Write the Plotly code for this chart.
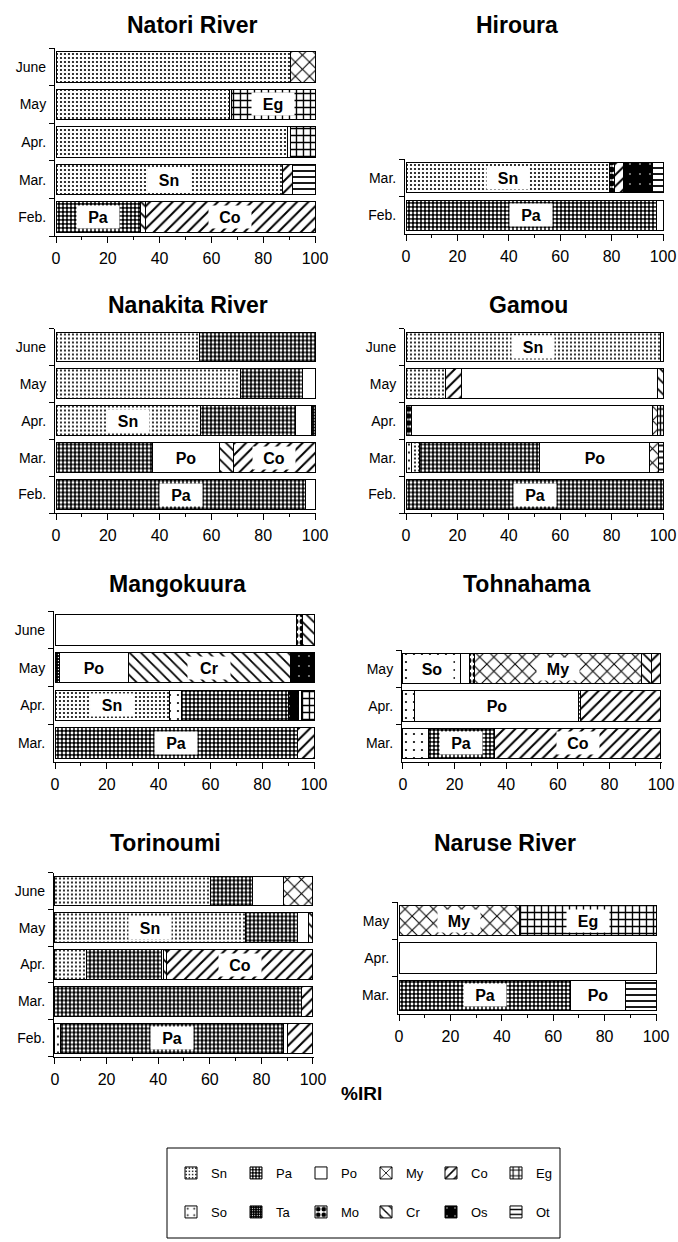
import plotly.graph_objects as go

W, H = 678, 1242
FONT = "Liberation Sans, Arial, Helvetica, sans-serif"

# Prey categories in legend order
category_codes = ["Sn", "Pa", "Po", "My", "Co", "Eg", "So", "Ta", "Mo", "Cr", "Os", "Ot"]

# ---- %IRI per site and month: (category, percent), listed left to right ----
natori_months = ["June", "May", "Apr.", "Mar.", "Feb."]
natori_segments = [
    [("Sn", 90.5), ("My", 9.5)],
    [("Sn", 66.8), ("So", 1.0), ("Eg", 32.2)],
    [("Sn", 89.2), ("So", 1.3), ("Eg", 9.5)],
    [("Sn", 87.4), ("Co", 3.9), ("Ot", 8.7)],
    [("Pa", 32.6), ("Cr", 2.0), ("Co", 65.4)],
]
natori_labels = [("Mar.", "Sn"), ("May", "Eg"), ("Feb.", "Pa"), ("Feb.", "Co")]

hiroura_months = ["Mar.", "Feb."]
hiroura_segments = [
    [("Sn", 79.0), ("Mo", 2.3), ("Co", 3.2), ("Os", 11.6), ("Ot", 3.9)],
    [("Pa", 97.4), ("Po", 2.6)],
]
hiroura_labels = [("Mar.", "Sn"), ("Feb.", "Pa")]

nanakita_months = ["June", "May", "Apr.", "Mar.", "Feb."]
nanakita_segments = [
    [("Sn", 55.3), ("Pa", 44.7)],
    [("Sn", 71.3), ("Pa", 23.8), ("Po", 4.9)],
    [("Sn", 55.7), ("Pa", 36.8), ("Po", 6.2), ("Ta", 1.3)],
    [("Pa", 37.2), ("Po", 26.1), ("Cr", 5.1), ("Co", 31.6)],
    [("Pa", 96.4), ("Po", 3.6)],
]
nanakita_labels = [("Apr.", "Sn"), ("Mar.", "Po"), ("Mar.", "Co"), ("Feb.", "Pa")]

gamou_months = ["June", "May", "Apr.", "Mar.", "Feb."]
gamou_segments = [
    [("Sn", 99.0), ("So", 1.0)],
    [("Sn", 15.4), ("Co", 6.0), ("Po", 76.5), ("Cr", 2.1)],
    [("Mo", 2.0), ("Po", 94.0), ("My", 1.7), ("Eg", 2.3)],
    [("So", 2.3), ("Sn", 2.9), ("Pa", 46.7), ("Po", 42.9), ("My", 3.5), ("Ot", 1.7)],
    [("Pa", 100.0)],
]
gamou_labels = [("June", "Sn"), ("Mar.", "Po"), ("Feb.", "Pa")]

mangokuura_months = ["June", "May", "Apr.", "Mar."]
mangokuura_segments = [
    [("Po", 93.2), ("Mo", 2.2), ("Cr", 4.6)],
    [("Ta", 1.9), ("Po", 26.4), ("Cr", 62.7), ("Os", 9.0)],
    [("Sn", 44.3), ("So", 4.5), ("Pa", 41.5), ("Os", 3.7), ("Po", 1.0), ("Eg", 5.0)],
    [("Pa", 93.6), ("Co", 6.4)],
]
mangokuura_labels = [("May", "Po"), ("May", "Cr"), ("Apr.", "Sn"), ("Mar.", "Pa")]

tohnahama_months = ["May", "Apr.", "Mar."]
tohnahama_segments = [
    [("So", 22.3), ("Po", 3.6), ("Mo", 1.7), ("My", 65.0), ("Cr", 3.9), ("Co", 3.5)],
    [("So", 4.5), ("Po", 63.5), ("Pa", 0.9), ("Co", 31.1)],
    [("So", 9.7), ("Pa", 25.9), ("Co", 64.4)],
]
tohnahama_labels = [("May", "So"), ("May", "My"), ("Apr.", "Po"), ("Mar.", "Pa"), ("Mar.", "Co")]

torinoumi_months = ["June", "May", "Apr.", "Mar.", "Feb."]
torinoumi_segments = [
    [("Sn", 60.4), ("Pa", 16.2), ("Po", 12.1), ("My", 11.3)],
    [("Sn", 73.9), ("Pa", 19.9), ("Po", 4.3), ("Cr", 1.9)],
    [("Sn", 12.2), ("Pa", 29.0), ("Po", 0.9), ("Cr", 1.0), ("Co", 56.9)],
    [("Pa", 95.6), ("Co", 4.4)],
    [("So", 2.2), ("Pa", 86.5), ("Po", 1.3), ("Co", 10.0)],
]
torinoumi_labels = [("May", "Sn"), ("Apr.", "Co"), ("Feb.", "Pa")]

naruse_months = ["May", "Apr.", "Mar."]
naruse_segments = [
    [("My", 46.7), ("Eg", 53.3)],
    [("Po", 100.0)],
    [("Pa", 66.9), ("Po", 21.4), ("Ot", 11.7)],
]
naruse_labels = [("May", "My"), ("May", "Eg"), ("Mar.", "Pa"), ("Mar.", "Po")]

x_ticks = [0, 20, 40, 60, 80, 100]
x_minor_ticks = [10, 30, 50, 70, 90]

# ---- fill styles for each category ----
STYLE = {
    "Sn": dict(bg="white", fg="black", shape=".", size=4, solidity=0.22),
    "Pa": dict(bg="black", fg="white", shape=".", size=4, solidity=0.4),
    "Po": dict(bg="white", fg="black", shape="", size=8, solidity=0.2),
    "My": dict(bg="white", fg="black", shape="x", size=10, solidity=0.2),
    "Co": dict(bg="white", fg="black", shape="/", size=8, solidity=0.25),
    "Eg": dict(bg="white", fg="black", shape="+", size=7, solidity=0.35),
    "So": dict(bg="white", fg="black", shape=".", size=8, solidity=0.06),
    "Ta": dict(bg="black", fg="white", shape=".", size=3, solidity=0.15),
    "Mo": dict(bg="white", fg="black", shape=".", size=7, solidity=0.55),
    "Cr": dict(bg="white", fg="black", shape="\\", size=8, solidity=0.22),
    "Os": dict(bg="black", fg="white", shape=".", size=10, solidity=0.02),
    "Ot": dict(bg="white", fg="black", shape="-", size=6, solidity=0.3),
}

# ---- panel placement (pixels): title centre, x of 0 and 100, top / bottom of y axis ----
panels = [
    dict(name="Natori River", months=natori_months, segs=natori_segments, labels=natori_labels,
         title=(192, 25), x0=56, x100=315, top=48, bottom=236),
    dict(name="Hiroura", months=hiroura_months, segs=hiroura_segments, labels=hiroura_labels,
         title=(517, 25), x0=406, x100=663, top=159, bottom=234),
    dict(name="Nanakita River", months=nanakita_months, segs=nanakita_segments, labels=nanakita_labels,
         title=(188, 305), x0=56, x100=315, top=328.5, bottom=513),
    dict(name="Gamou", months=gamou_months, segs=gamou_segments, labels=gamou_labels,
         title=(528, 305), x0=406, x100=663, top=328.5, bottom=513),
    dict(name="Mangokuura", months=mangokuura_months, segs=mangokuura_segments, labels=mangokuura_labels,
         title=(177, 584), x0=55, x100=314, top=611, bottom=762),
    dict(name="Tohnahama", months=tohnahama_months, segs=tohnahama_segments, labels=tohnahama_labels,
         title=(527, 584), x0=403, x100=661, top=650, bottom=762),
    dict(name="Torinoumi", months=torinoumi_months, segs=torinoumi_segments, labels=torinoumi_labels,
         title=(165, 843), x0=55, x100=313, top=872.5, bottom=1056.5),
    dict(name="Naruse River", months=naruse_months, segs=naruse_segments, labels=naruse_labels,
         title=(505, 843), x0=399, x100=656, top=902, bottom=1014),
]

X_PAD = 0.4  # a little room so the bar outline at 0 and 100 is not clipped


def fx(px):
    return px / W


def fy(py):
    return 1 - py / H


fig = go.Figure()
annotations = []
layout_axes = {}
shown = set()

for i, p in enumerate(panels, start=1):
    sfx = "" if i == 1 else str(i)
    xa, ya = "x" + sfx, "y" + sfx

    for month, segs in zip(p["months"], p["segs"]):
        for cat, val in segs:
            st = STYLE[cat]
            first = cat not in shown
            shown.add(cat)
            rank = category_codes.index(cat)
            fig.add_trace(go.Bar(
                x=[val], y=[month], orientation="h", xaxis=xa, yaxis=ya,
                name=cat, legendgroup=cat, showlegend=first, legendrank=rank,
                legend="legend" if rank < 6 else "legend2",
                hoverinfo="skip",
                marker=dict(
                    color=st["bg"],
                    line=dict(color="black", width=1),
                    pattern=dict(shape=st["shape"], size=st["size"], solidity=st["solidity"],
                                 fgcolor=st["fg"], bgcolor=st["bg"], fillmode="replace"),
                ),
            ))

    # white boxed code labels at the centre of their segment
    for month, cat in p["labels"]:
        segs = p["segs"][p["months"].index(month)]
        start = 0.0
        for c, v in segs:
            if c == cat:
                centre = start + v / 2
                break
            start += v
        annotations.append(dict(
            x=centre, y=month, xref=xa, yref=ya, text="<b>%s</b>" % cat, showarrow=False,
            bgcolor="white", width=42, height=22, borderpad=0,
            font=dict(family=FONT, size=16, color="black"),
        ))

    scale = (p["x100"] - p["x0"]) / 100.0
    layout_axes["xaxis" + sfx] = dict(
        domain=[fx(p["x0"] - X_PAD * scale), fx(p["x100"] + X_PAD * scale)],
        range=[-X_PAD, 100 + X_PAD], anchor=ya,
        tickmode="array", tickvals=x_ticks, ticks="outside", ticklen=6, tickwidth=1,
        tickcolor="black", showline=True, linecolor="black", linewidth=1,
        showgrid=False, zeroline=False, fixedrange=True, ticklabelstandoff=2,
        minor=dict(tickmode="array", tickvals=x_minor_ticks, ticks="outside", ticklen=3,
                   tickcolor="black", showgrid=False),
        tickfont=dict(family=FONT, size=16, color="black"),
    )
    layout_axes["yaxis" + sfx] = dict(
        domain=[fy(p["bottom"]), fy(p["top"])], anchor=xa, type="category",
        categoryorder="array", categoryarray=list(reversed(p["months"])),
        ticks="outside", tickson="boundaries", ticklen=5, tickwidth=1, tickcolor="black",
        showline=True, linecolor="black", linewidth=1, showgrid=False, zeroline=False,
        fixedrange=True, ticklabelstandoff=5,
        tickfont=dict(family=FONT, size=14, color="black"),
    )

    annotations.append(dict(
        x=fx(p["title"][0]), y=fy(p["title"][1]), xref="paper", yref="paper",
        text="<b>%s</b>" % p["name"], showarrow=False, xanchor="center", yanchor="middle",
        font=dict(family=FONT, size=23, color="black"),
    ))

# shared axis title
annotations.append(dict(
    x=fx(361), y=fy(1093), xref="paper", yref="paper", text="<b>%IRI</b>", showarrow=False,
    xanchor="center", yanchor="middle", font=dict(family=FONT, size=19, color="black"),
))

legend_common = dict(
    orientation="h", xanchor="left", yanchor="middle", entrywidth=20, entrywidthmode="pixels",
    font=dict(family=FONT, size=13, color="black"), bgcolor="rgba(0,0,0,0)", borderwidth=0,
    traceorder="normal", itemclick=False, itemdoubleclick=False,
)

fig.update_layout(
    width=W, height=H, autosize=False,
    margin=dict(l=0, r=0, t=0, b=0, autoexpand=False),
    paper_bgcolor="white", plot_bgcolor="white",
    barmode="stack", bargap=0.19,
    showlegend=True,
    legend=dict(x=fx(171), y=fy(1173), **legend_common),
    legend2=dict(x=fx(171), y=fy(1212), **legend_common),
    annotations=annotations,
    shapes=[dict(type="rect", xref="paper", yref="paper",
                 x0=fx(167), x1=fx(560), y0=fy(1238), y1=fy(1148),
                 line=dict(color="black", width=1), fillcolor="rgba(0,0,0,0)")],
    font=dict(family=FONT, color="black"),
    **layout_axes,
)

fig.write_html("out.html")
